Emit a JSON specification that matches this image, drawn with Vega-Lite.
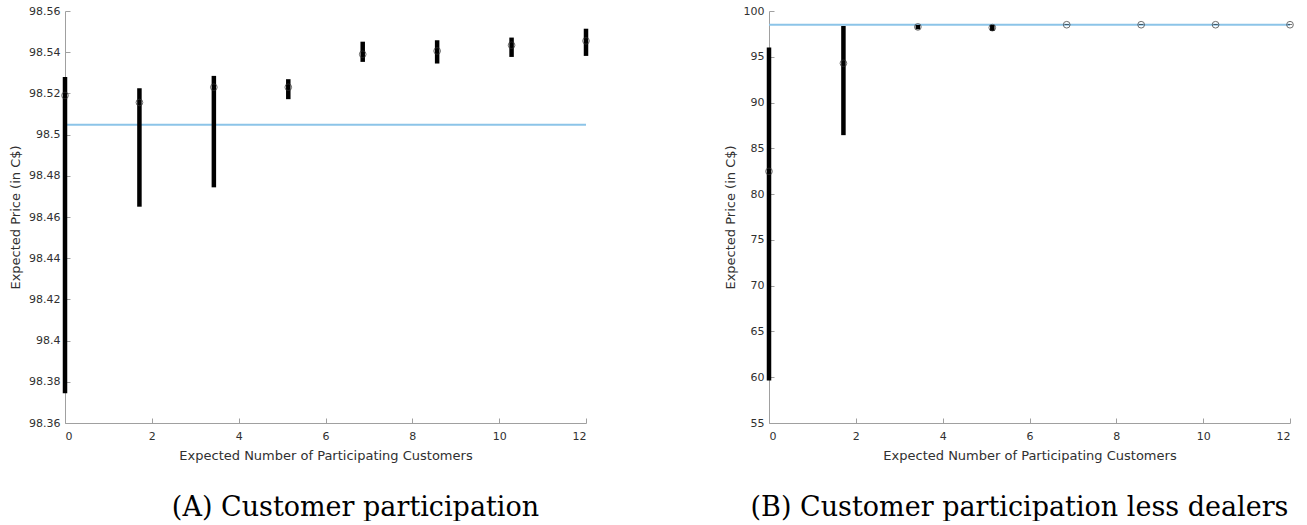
{
  "$schema": "https://vega.github.io/schema/vega-lite/v6.json",
  "background": "white",
  "padding": {"left": 9, "top": 5, "right": 0, "bottom": 0},
  "bounds": "flush",
  "spacing": 183,
  "config": {
    "view": {"stroke": null},
    "axis": {
      "grid": false,
      "domainColor": "#a0a0a0",
      "tickColor": "#a0a0a0",
      "tickSize": -5,
      "labelFont": "DejaVu Sans",
      "labelFontSize": 11,
      "labelColor": "#303030",
      "titleFont": "DejaVu Sans",
      "titleFontSize": 13,
      "titleFontWeight": "normal",
      "titleColor": "#303030"
    },
    "axisX": {"labelPadding": 12, "titlePadding": 8},
    "axisY": {"labelPadding": 10, "titlePadding": 6}
  },
  "datasets": {
    "A": [
      {"x": 0, "y": 98.519, "lo": 98.3745, "hi": 98.528},
      {"x": 1.7143, "y": 98.5156, "lo": 98.465, "hi": 98.5225},
      {"x": 3.4286, "y": 98.523, "lo": 98.4744, "hi": 98.5285},
      {"x": 5.1429, "y": 98.523, "lo": 98.5172, "hi": 98.5269},
      {"x": 6.8571, "y": 98.539, "lo": 98.5353, "hi": 98.5451},
      {"x": 8.5714, "y": 98.5406, "lo": 98.5345, "hi": 98.5458},
      {"x": 10.2857, "y": 98.5434, "lo": 98.5377, "hi": 98.5471},
      {"x": 12, "y": 98.5455, "lo": 98.5382, "hi": 98.5514}
    ],
    "Aref": [{"x": 0, "x2": 12, "y": 98.5048}],
    "B": [
      {"x": 0, "y": 82.48, "lo": 59.65, "hi": 96.0},
      {"x": 1.7143, "y": 94.29, "lo": 86.44, "hi": 98.36},
      {"x": 3.4286, "y": 98.26, "lo": 98.0, "hi": 98.47},
      {"x": 5.1429, "y": 98.18, "lo": 97.82, "hi": 98.47},
      {"x": 6.8571, "y": 98.5, "lo": 98.47, "hi": 98.53},
      {"x": 8.5714, "y": 98.5, "lo": 98.47, "hi": 98.53},
      {"x": 10.2857, "y": 98.5, "lo": 98.47, "hi": 98.53},
      {"x": 12, "y": 98.5, "lo": 98.47, "hi": 98.53}
    ],
    "Bref": [{"x": 0, "x2": 12, "y": 98.5}]
  },
  "hconcat": [
    {
      "width": 521,
      "height": 412,
      "title": {"text": "(A) Customer participation", "orient": "bottom", "frame": "group", "anchor": "middle", "dx": 30, "offset": 33, "font": "DejaVu Serif", "fontSize": 27, "fontWeight": "normal", "color": "black"},
      "layer": [
        {
          "data": {"name": "Aref"},
          "mark": {"type": "rule", "color": "#8cc4e8", "strokeWidth": 2},
          "encoding": {
            "x": {"field": "x", "type": "quantitative", "scale": {"domain": [0, 12], "nice": false}, "axis": {"values": [0, 2, 4, 6, 8, 10, 12], "title": "Expected Number of Participating Customers"}},
            "x2": {"field": "x2"},
            "y": {"field": "y", "type": "quantitative", "scale": {"domain": [98.36, 98.56], "nice": false, "zero": false}, "axis": {"values": [98.36, 98.38, 98.4, 98.42, 98.44, 98.46, 98.48, 98.5, 98.52, 98.54, 98.56], "format": ".4~r", "title": "Expected Price (in C$)"}}
          }
        },
        {
          "data": {"name": "A"},
          "mark": {"type": "rule", "color": "black", "strokeWidth": 4.5},
          "encoding": {
            "x": {"field": "x", "type": "quantitative"},
            "y": {"field": "lo", "type": "quantitative"},
            "y2": {"field": "hi"}
          }
        },
        {
          "data": {"name": "A"},
          "mark": {"type": "point", "shape": "circle", "filled": false, "color": "#333333", "size": 45, "strokeWidth": 1},
          "encoding": {
            "x": {"field": "x", "type": "quantitative"},
            "y": {"field": "y", "type": "quantitative"}
          }
        }
      ]
    },
    {
      "width": 521,
      "height": 412,
      "title": {"text": "(B) Customer participation less dealers", "orient": "bottom", "frame": "group", "anchor": "middle", "dx": -10, "offset": 33, "font": "DejaVu Serif", "fontSize": 27, "fontWeight": "normal", "color": "black"},
      "layer": [
        {
          "data": {"name": "Bref"},
          "mark": {"type": "rule", "color": "#8cc4e8", "strokeWidth": 2},
          "encoding": {
            "x": {"field": "x", "type": "quantitative", "scale": {"domain": [0, 12], "nice": false}, "axis": {"values": [0, 2, 4, 6, 8, 10, 12], "title": "Expected Number of Participating Customers"}},
            "x2": {"field": "x2"},
            "y": {"field": "y", "type": "quantitative", "scale": {"domain": [55, 100], "nice": false, "zero": false}, "axis": {"values": [55, 60, 65, 70, 75, 80, 85, 90, 95, 100], "title": "Expected Price (in C$)"}}
          }
        },
        {
          "data": {"name": "B"},
          "mark": {"type": "rule", "color": "black", "strokeWidth": 4.5},
          "encoding": {
            "x": {"field": "x", "type": "quantitative"},
            "y": {"field": "lo", "type": "quantitative"},
            "y2": {"field": "hi"}
          }
        },
        {
          "data": {"name": "B"},
          "mark": {"type": "point", "shape": "circle", "filled": false, "color": "#333333", "size": 45, "strokeWidth": 1},
          "encoding": {
            "x": {"field": "x", "type": "quantitative"},
            "y": {"field": "y", "type": "quantitative"}
          }
        }
      ]
    }
  ]
}
